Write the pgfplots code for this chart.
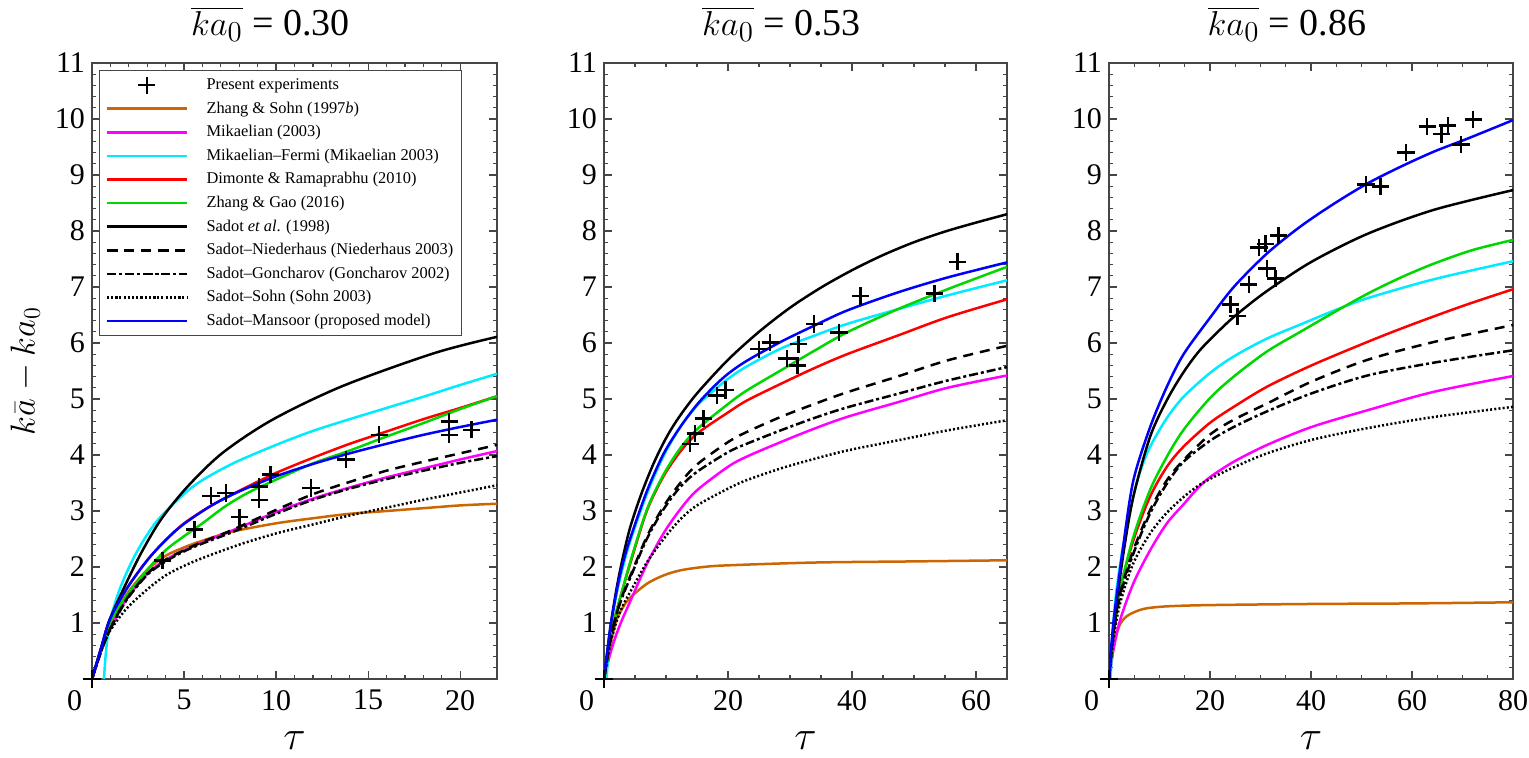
\documentclass[border=0pt]{standalone}
\usepackage{pgfplots}
\pgfplotsset{compat=1.18}
\usepackage{fontspec}
\setmainfont{Liberation Serif}
\definecolor{cbrown}{RGB}{204,102,0}
\definecolor{cmag}{RGB}{255,0,255}
\definecolor{ccyan}{RGB}{0,235,255}
\definecolor{cred}{RGB}{255,0,0}
\definecolor{cgreen}{RGB}{0,215,0}
\definecolor{cblue}{RGB}{0,0,255}
\definecolor{cframe}{RGB}{70,70,70}
\newcommand{\zerolab}{\makebox[0pt][r]{0\hspace{5pt}}}
\pgfplotsset{
  base/.style={
    scale only axis, height=308pt, anchor=south west,
    ymin=0, ymax=11, ytick={0,1,...,11},
    yticklabels={,1,2,3,4,5,6,7,8,9,10,11},
    minor y tick num=4,
    tick align=inside, tick pos=both,
    major tick length=4pt, minor tick length=2.2pt,
    axis line style={draw=cframe, line width=0.7pt},
    every tick/.style={draw=cframe, line width=0.6pt},
    ticklabel style={font=\fontsize{15}{15}\selectfont},
    xticklabel style={yshift=-2pt},
    xlabel={$\tau$},
    xlabel style={font=\fontsize{21}{21}\selectfont, at={(axis description cs:0.5,0)}, anchor=base, yshift=-35pt},
    title style={font=\fontsize{19}{19}\selectfont, at={(0.5,1)}, anchor=base, yshift=8pt, xshift=-12pt},
    legend image code/.code={\draw[mark repeat=2,mark phase=2,#1] plot coordinates {(0pt,0pt) (20pt,0pt) (40pt,0pt)};},
  },
  sbrown/.style={cbrown, line width=1.25pt, smooth},
  smag/.style={cmag, line width=1.25pt, smooth},
  scyan/.style={ccyan, line width=1.25pt, smooth},
  sred/.style={cred, line width=1.25pt, smooth},
  sgreen/.style={cgreen, line width=1.25pt, smooth},
  sblack/.style={black, line width=1.25pt, smooth},
  sdash/.style={black, line width=1.25pt, smooth, dash pattern=on 5pt off 3.5pt},
  sdashdot/.style={black, line width=1.25pt, smooth, dash pattern=on 4.5pt off 1.5pt on 1.5pt off 1.5pt},
  sdot/.style={black, line width=1.25pt, smooth, dash pattern=on 1pt off 1.1pt},
  sblue/.style={cblue, line width=1.25pt, smooth},
  sexp/.style={only marks, mark=+, mark size=4.3pt, mark options={black, line width=1.3pt, solid}},
}
\begin{document}
\begin{tikzpicture}
% ---------------- Panel 1 ----------------
\begin{axis}[base, at={(46pt,39pt)}, width=202.5pt,
  xmin=0, xmax=22, xtick={0,5,10,15,20}, xticklabels={\zerolab,5,10,15,20}, minor x tick num=4,
  title={$\overline{ka_{0}}$ = 0.30},
  ylabel={$k\bar{a}-ka_0$},
  ylabel style={font=\fontsize{18}{18}\selectfont, at={(axis description cs:-0.165,0.5)}, anchor=center, rotate=0, inner sep=0pt},
  legend style={at={(0,1)}, anchor=north west, xshift=3.5pt, yshift=-3.5pt,
    draw=cframe, line width=0.6pt, fill=white, font=\fontsize{8.2}{9}\selectfont,
    inner xsep=3pt, inner ysep=1.5pt, row sep=0.3pt,
    nodes={inner sep=1.2pt, text height=6.7pt, text depth=2.4pt},
    /tikz/every odd column/.append style={column sep=8pt}},
  legend cell align=left]
\addlegendimage{sexp}
\addlegendentry{Present experiments}
\addplot[sbrown] coordinates {(0,0)(0.5,0.55)(0.96,0.95)(1.86,1.5)(3,1.95)(4,2.2)(5,2.35)(6,2.47)(7.6,2.63)(10,2.78)(12,2.87)(14,2.95)(16,3.0)(18,3.05)(20,3.1)(22,3.13)};
\addlegendentry{Zhang \& Sohn (1997\textit{b})}
\addplot[smag] coordinates {(0,0)(0.5,0.5)(0.96,0.88)(1.86,1.42)(3,1.88)(4,2.13)(5,2.3)(6,2.44)(7.6,2.65)(10,2.98)(12,3.22)(14,3.42)(16,3.6)(18,3.76)(20,3.92)(22,4.07)};
\addlegendentry{Mikaelian (2003)}
\addplot[scyan] coordinates {(0.65,0)(0.75,0.45)(0.96,1.0)(1.5,1.6)(2.4,2.25)(3.6,2.85)(5.5,3.44)(7.6,3.84)(10,4.18)(12,4.43)(14,4.64)(16,4.84)(18,5.04)(20,5.25)(22,5.45)};
\addlegendentry{Mikaelian--Fermi (Mikaelian 2003)}
\addplot[sred] coordinates {(0,0)(0.5,0.55)(0.96,1.03)(1.86,1.6)(3,2.12)(4,2.48)(5,2.78)(6.5,3.1)(8,3.36)(10,3.68)(12,3.95)(14,4.2)(16,4.42)(18,4.64)(20,4.84)(22,5.05)};
\addlegendentry{Dimonte \& Ramaprabhu (2010)}
\addplot[sgreen] coordinates {(0,0)(0.5,0.55)(0.96,1.0)(1.86,1.48)(3,1.95)(4,2.3)(5,2.55)(6,2.78)(7.27,3.09)(8.5,3.33)(10,3.56)(12,3.85)(14,4.08)(16,4.33)(18,4.57)(20,4.82)(22,5.05)};
\addlegendentry{Zhang \& Gao (2016)}
\addplot[sblack] coordinates {(0,0)(0.5,0.56)(0.96,1.06)(1.77,1.65)(2.67,2.25)(3.75,2.85)(5.2,3.44)(7.1,4.04)(9.8,4.63)(13.6,5.23)(18.6,5.82)(22,6.11)};
\addlegendentry{Sadot \textit{et al}. (1998)}
\addplot[sdash] coordinates {(0,0)(0.5,0.5)(0.96,0.88)(1.86,1.42)(3,1.88)(4,2.13)(5,2.3)(6,2.45)(7.6,2.66)(10,3.02)(12,3.3)(14,3.52)(16,3.72)(18,3.88)(20,4.03)(22,4.18)};
\addlegendentry{Sadot--Niederhaus (Niederhaus 2003)}
\addplot[sdashdot] coordinates {(0,0)(0.5,0.5)(0.96,0.87)(1.86,1.4)(3,1.86)(4,2.1)(5,2.28)(6,2.42)(7.6,2.62)(10,2.95)(12,3.2)(14,3.4)(16,3.57)(18,3.72)(20,3.86)(22,3.98)};
\addlegendentry{Sadot--Goncharov (Goncharov 2002)}
\addplot[sdot] coordinates {(0,0)(0.5,0.5)(0.96,0.85)(1.86,1.25)(3,1.6)(4,1.85)(5,2.02)(6,2.16)(8,2.4)(10,2.6)(12,2.76)(14,2.92)(16,3.06)(18,3.2)(20,3.33)(22,3.46)};
\addlegendentry{Sadot--Sohn (Sohn 2003)}
\addplot[sblue] coordinates {(0,0)(0.5,0.56)(0.96,1.06)(1.86,1.6)(3,2.12)(4,2.48)(5,2.77)(6.5,3.1)(8,3.35)(10,3.62)(12,3.84)(14,4.03)(16,4.2)(18,4.36)(20,4.5)(22,4.63)};
\addlegendentry{Sadot--Mansoor (proposed model)}
\addplot[sexp, forget plot] coordinates {(0,0)(3.84,2.12)(5.56,2.67)(6.46,3.27)(7.27,3.32)(8.0,2.89)(9.08,3.44)(9.08,3.2)(9.71,3.65)(11.9,3.41)(13.8,3.92)(15.6,4.36)(19.4,4.6)(19.4,4.36)(20.6,4.45)};
\end{axis}
% ---------------- Panel 2 ----------------
\begin{axis}[base, at={(302pt,39pt)}, width=201.5pt,
  xmin=0, xmax=65, xtick={0,20,40,60}, xticklabels={\zerolab,20,40,60}, minor x tick num=3,
  title={$\overline{ka_{0}}$ = 0.53}]
\addplot[sbrown] coordinates {(0,0)(0.5,0.4)(1,0.62)(2,1.05)(3,1.27)(4.2,1.45)(6.9,1.7)(9.6,1.85)(12.3,1.94)(16,2.0)(20,2.03)(34,2.08)(50,2.1)(65,2.12)};
\addplot[smag] coordinates {(0,0)(1,0.45)(2,0.8)(3,1.08)(4.2,1.38)(6.9,2.05)(9.6,2.6)(12.3,3.03)(15,3.37)(20,3.79)(23,3.97)(28.5,4.23)(33.9,4.47)(39.2,4.68)(47.3,4.94)(55.4,5.2)(65,5.42)};
\addplot[scyan] coordinates {(0.4,0)(1,0.85)(2,1.5)(3,1.98)(4.2,2.45)(6.9,3.3)(9.6,3.98)(12.3,4.5)(15,4.88)(17.7,5.15)(20,5.36)(23,5.58)(28.5,5.9)(33.9,6.13)(39.2,6.34)(47.3,6.6)(55.4,6.85)(65,7.12)};
\addplot[sred] coordinates {(0,0)(1,0.7)(2,1.2)(3,1.6)(4.2,2.05)(6.9,3.0)(9.6,3.62)(12.3,4.06)(15,4.38)(20,4.76)(23,4.97)(28.5,5.27)(33.9,5.55)(39.2,5.8)(47.3,6.13)(55.4,6.46)(65,6.78)};
\addplot[sgreen] coordinates {(0,0)(1,0.7)(2,1.2)(3,1.6)(4.2,2.08)(6.9,3.02)(9.6,3.65)(12.3,4.12)(15,4.46)(20,4.91)(23,5.15)(28.5,5.51)(33.9,5.86)(39.2,6.19)(47.3,6.6)(55.4,6.96)(65,7.36)};
\addplot[sblack] coordinates {(0,0)(1,0.9)(2,1.6)(3,2.15)(4.2,2.7)(6,3.3)(8,3.85)(10,4.3)(12,4.66)(15,5.1)(20,5.7)(25,6.2)(30,6.63)(35,6.99)(40,7.3)(45,7.57)(50,7.8)(55,7.99)(60,8.15)(65,8.3)};
\addplot[sdash] coordinates {(0,0)(1,0.68)(2,1.15)(3,1.5)(4.2,1.83)(6.9,2.54)(9.6,3.08)(12.3,3.5)(15,3.83)(20,4.23)(23,4.41)(28.5,4.68)(33.9,4.91)(39.2,5.12)(47.3,5.4)(55.4,5.69)(65,5.95)};
\addplot[sdashdot] coordinates {(0,0)(1,0.68)(2,1.15)(3,1.48)(4.2,1.8)(6.9,2.5)(9.6,3.03)(12.3,3.43)(15,3.7)(20,4.05)(23,4.2)(28.5,4.44)(33.9,4.66)(39.2,4.85)(47.3,5.09)(55.4,5.33)(65,5.57)};
\addplot[sdot] coordinates {(0,0)(1,0.62)(2,1.02)(3,1.3)(4.2,1.55)(6.9,2.08)(9.6,2.5)(12.3,2.85)(15,3.1)(20,3.4)(23,3.55)(28.5,3.76)(33.9,3.93)(39.2,4.08)(47.3,4.26)(55.4,4.44)(65,4.62)};
\addplot[sblue] coordinates {(0,0)(1,0.9)(2,1.55)(3,2.05)(4.2,2.5)(6.9,3.35)(9.6,4.02)(12.3,4.5)(15,4.9)(17.7,5.22)(20,5.45)(23,5.68)(28.5,6.02)(33.9,6.31)(39.2,6.58)(47.3,6.9)(55.4,7.17)(65,7.44)};
\addplot[sexp] coordinates {(0,0)(13.9,4.2)(14.7,4.38)(16,4.65)(18.2,5.06)(19.6,5.16)(25,5.89)(26.8,6.01)(29.5,5.72)(31.2,5.6)(31.4,5.98)(33.9,6.34)(37.9,6.19)(41.4,6.84)(53.3,6.88)(57,7.45)};
\end{axis}
% ---------------- Panel 3 ----------------
\begin{axis}[base, at={(554.5pt,39pt)}, width=202pt,
  xmin=0, xmax=80, xtick={0,20,40,60,80}, xticklabels={\zerolab,20,40,60,80}, minor x tick num=3,
  title={$\overline{ka_{0}}$ = 0.86}]
\addplot[sbrown] coordinates {(0,0)(0.8,0.5)(1.5,0.8)(2.2,0.98)(3,1.08)(4,1.15)(6,1.23)(8,1.27)(12,1.3)(20,1.32)(40,1.34)(60,1.35)(80,1.37)};
\addplot[smag] coordinates {(0,0)(0.86,0.52)(2.19,1.05)(4.83,1.71)(8.15,2.3)(11.46,2.78)(14.77,3.12)(17.5,3.4)(19.93,3.6)(24.7,3.88)(31.3,4.18)(40.1,4.5)(51.2,4.8)(64.4,5.13)(80,5.41)};
\addplot[scyan] coordinates {(0.3,0)(0.86,1.0)(1.5,1.6)(2.85,2.4)(4.83,3.26)(6.16,3.7)(8.15,4.15)(11.46,4.66)(14.77,5.04)(19.93,5.46)(24.7,5.76)(31.3,6.08)(37.9,6.33)(44.6,6.58)(51.2,6.8)(64.4,7.14)(80,7.46)};
\addplot[sred] coordinates {(0,0)(0.86,0.8)(2.19,1.6)(4.83,2.48)(8.15,3.26)(11.46,3.79)(14.77,4.15)(19.93,4.57)(24.7,4.86)(31.3,5.22)(40.1,5.6)(51.2,6.02)(59.1,6.3)(70,6.66)(80,6.96)};
\addplot[sgreen] coordinates {(0,0)(0.86,0.8)(2.19,1.59)(4.83,2.54)(8.15,3.38)(11.46,3.97)(14.77,4.45)(19.93,5.01)(24.7,5.4)(31.3,5.85)(37.9,6.2)(44.6,6.55)(51.2,6.88)(57.8,7.17)(64.4,7.42)(72,7.66)(80,7.84)};
\addplot[sblack] coordinates {(0,0)(0.86,0.9)(2.85,2.24)(4.83,3.26)(8.15,4.33)(11.46,4.98)(14.77,5.48)(18.08,5.88)(22.7,6.3)(25.7,6.54)(31.3,6.93)(40.1,7.45)(51.2,7.95)(64.4,8.38)(80,8.73)};
\addplot[sdash] coordinates {(0,0)(0.86,0.82)(2.19,1.53)(4.83,2.3)(8.15,3.02)(11.46,3.55)(14.77,3.91)(19.93,4.36)(24.7,4.63)(31.3,4.92)(40.1,5.31)(51.2,5.7)(64.4,6.02)(80,6.32)};
\addplot[sdashdot] coordinates {(0,0)(0.86,0.8)(2.19,1.47)(4.83,2.24)(8.15,2.96)(11.46,3.49)(14.77,3.88)(19.93,4.25)(24.7,4.5)(31.3,4.78)(40.1,5.1)(51.2,5.42)(64.4,5.65)(80,5.87)};
\addplot[sdot] coordinates {(0,0)(0.86,0.7)(2.19,1.35)(4.83,2.07)(8.15,2.6)(11.46,2.97)(14.77,3.25)(17.5,3.44)(19.93,3.57)(24.7,3.78)(31.3,4.03)(40.1,4.27)(51.2,4.48)(64.4,4.68)(80,4.86)};
\addplot[sblue] coordinates {(0,0)(0.86,1.0)(2.85,2.4)(4.83,3.55)(8.15,4.5)(11.46,5.22)(14.77,5.8)(20,6.45)(24.7,7.0)(31.3,7.6)(37.9,8.08)(44.6,8.49)(51.2,8.85)(57.8,9.15)(64.4,9.42)(71,9.65)(80,9.98)};
\addplot[sexp] coordinates {(0,0)(24.0,6.69)(25.4,6.48)(27.7,7.04)(29.7,7.71)(31.0,7.77)(33.6,7.92)(31.3,7.33)(33.0,7.15)(50.9,8.83)(53.8,8.79)(58.8,9.4)(63,9.87)(65.8,9.73)(67.1,9.88)(69.7,9.55)(72.1,9.99)};
\end{axis}
\pgfresetboundingbox
\path[use as bounding box] (0,0) rectangle (764.5pt,378.5pt);
\end{tikzpicture}
\end{document}
